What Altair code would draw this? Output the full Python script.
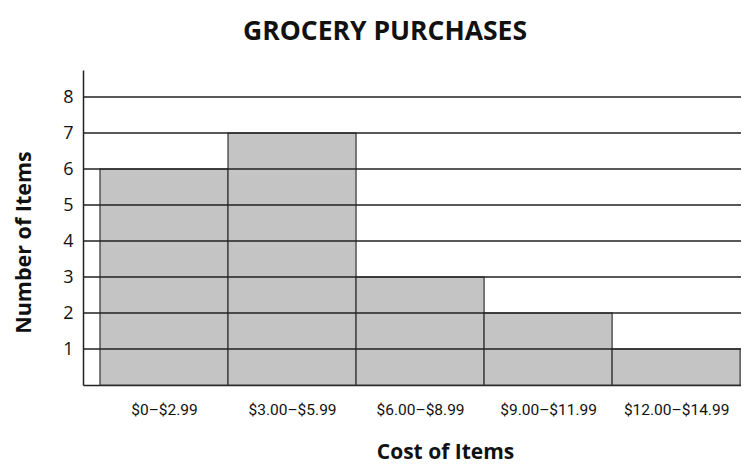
import altair as alt
import pandas as pd

# Data
categories = ["$0–$2.99", "$3.00–$5.99", "$6.00–$8.99", "$9.00–$11.99", "$12.00–$14.99"]
bin_start = [0, 3, 6, 9, 12]
bin_end = [3, 6, 9, 12, 15]
counts = [6, 7, 3, 2, 1]
grid_values = [1, 2, 3, 4, 5, 6, 7, 8]

df = pd.DataFrame({"cat": categories, "x0": bin_start, "x1": bin_end, "n": counts})
grid = pd.DataFrame({"g": grid_values})

centers = [(a + b) / 2 for a, b in zip(bin_start, bin_end)]
label_expr = " : ".join(
    [f"datum.value == {c} ? '{lab}'" for c, lab in zip(centers, categories)]
) + " : ''"

FONT = "Open Sans"
xscale = alt.Scale(domain=[-0.398, 15.02], nice=False, zero=False)
yscale = alt.Scale(domain=[0, 8.75], nice=False)

bars = alt.Chart(df).mark_rect(
    fill="#c4c4c4", stroke="#333333", strokeWidth=1.2
).encode(
    x=alt.X("x0:Q", scale=xscale,
            axis=alt.Axis(values=centers, labelExpr=label_expr, ticks=False, grid=False,
                          domain=True, domainColor="#222222", domainWidth=1.5,
                          labelFont="Roboto", labelFontSize=15.5, labelColor="#111111",
                          labelPadding=17, title="Cost of Items", titleFont=FONT,
                          titleFontSize=21, titleFontWeight="bold", titleColor="#111111",
                          titlePadding=24, titleX=362)),
    x2="x1:Q",
    y=alt.Y("n:Q", scale=yscale,
            axis=alt.Axis(values=grid_values, ticks=False, grid=False, domain=True,
                          domainColor="#222222", domainWidth=1.5,
                          labelFont=FONT, labelFontSize=18, labelColor="#111111", labelPadding=10,
                          title="Number of Items", titleFont=FONT, titleFontSize=21.5,
                          titleFontWeight="bold", titleColor="#111111",
                          titleX=-59, titleY=172, titleAngle=270, titleBaseline="middle",
                          titleAlign="center")),
    y2=alt.datum(0),
)

rules = alt.Chart(grid).mark_rule(color="#222222", strokeWidth=1.5).encode(
    y=alt.Y("g:Q", scale=yscale),
)

chart = alt.layer(bars, rules).properties(
    width=658,
    height=315,
    autosize=alt.AutoSizeParams(type="none"),
    padding={"left": 75, "top": 62, "right": 0, "bottom": 81},
    title=alt.Title("GROCERY PURCHASES", font=FONT, fontSize=26.5, fontWeight="bold",
                    color="#111111", anchor="middle", dx=-27, offset=25),
).configure_view(stroke=None)

chart.save("out.html", embed_options={"renderer": "svg", "actions": False})
